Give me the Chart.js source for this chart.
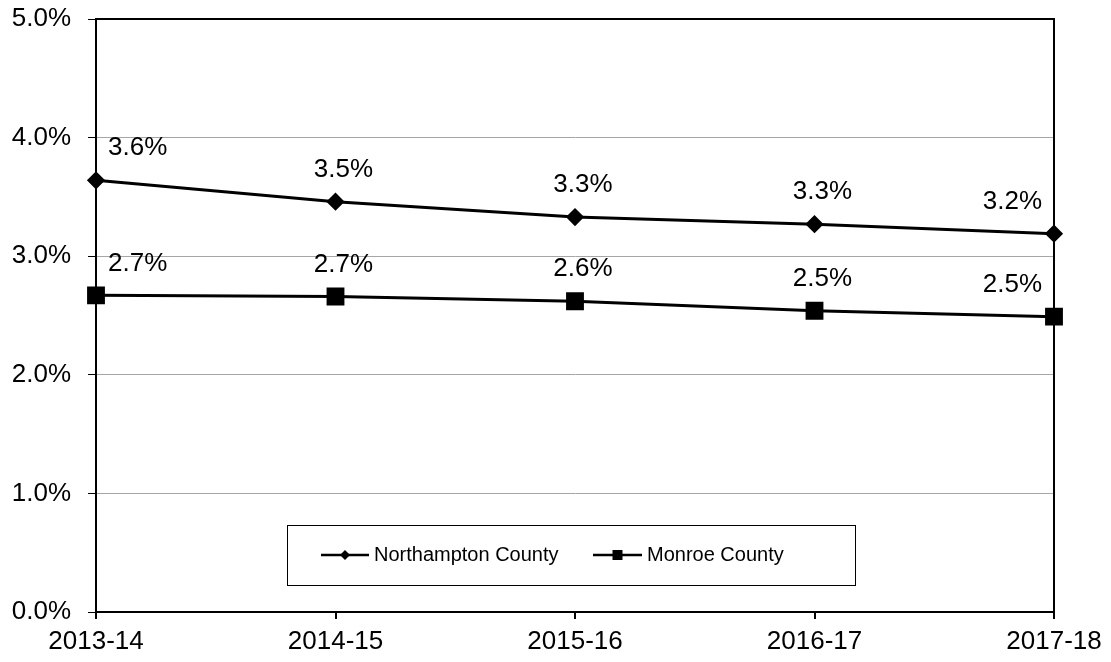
<!DOCTYPE html>
<html>
<head>
<meta charset="utf-8">
<script src="https://cdn.jsdelivr.net/npm/chart.js@4/dist/chart.umd.min.js"></script>
<style>
  html, body { margin: 0; padding: 0; background: #fff; }
  #wrap { width: 1111px; height: 662px; }
</style>
</head>
<body>
<div id="wrap"><canvas id="c" width="1111" height="662"></canvas></div>
<script>
const years = ['2013-14', '2014-15', '2015-16', '2016-17', '2017-18'];
const northampton = [3.64, 3.46, 3.33, 3.27, 3.19];
const monroe = [2.67, 2.66, 2.62, 2.54, 2.49];
const yTicks = [0, 1, 2, 3, 4, 5];

const FONT = 'Liberation Sans, Arial, sans-serif';

// frame round the plot area
const framePlugin = {
    id: 'frame',
    beforeDatasetsDraw(chart) {
        const a = chart.chartArea, ctx = chart.ctx;
        ctx.save();
        ctx.strokeStyle = '#000';
        ctx.lineWidth = 2;
        ctx.strokeRect(a.left, a.top, a.right - a.left, a.bottom - a.top);
        ctx.restore();
    }
};

// value labels above each point, kept inside the plot area
const labelPlugin = {
    id: 'pointLabels',
    afterDatasetsDraw(chart) {
        const a = chart.chartArea, ctx = chart.ctx;
        ctx.save();
        ctx.font = '26px ' + FONT;
        ctx.fillStyle = '#000';
        ctx.textBaseline = 'middle';
        ctx.textAlign = 'center';
        chart.data.datasets.forEach((ds, i) => {
            chart.getDatasetMeta(i).data.forEach((pt, j) => {
                const txt = ds.data[j].toFixed(1) + '%';
                const w = ctx.measureText(txt).width;
                let cx = pt.x + 8;
                if (cx - w / 2 < a.left + 12) cx = a.left + 12 + w / 2;
                if (cx + w / 2 > a.right - 12) cx = a.right - 12 - w / 2;
                ctx.fillText(txt, cx, pt.y - 32);
            });
        });
        ctx.restore();
    }
};

// legend box inside the plot
const legendPlugin = {
    id: 'boxLegend',
    afterDraw(chart) {
        const ctx = chart.ctx;
        ctx.save();
        ctx.fillStyle = '#fff';
        ctx.fillRect(287, 525, 568, 60);
        ctx.strokeStyle = '#000';
        ctx.lineWidth = 1;
        ctx.strokeRect(287.5, 525.5, 568, 60);
        const y = 555;
        const items = [
            { x1: 321, x2: 369, name: 'Northampton County', style: 'diamond' },
            { x1: 593, x2: 642, name: 'Monroe County', style: 'square' }
        ];
        items.forEach(it => {
            ctx.strokeStyle = '#000';
            ctx.lineWidth = 2.5;
            ctx.beginPath();
            ctx.moveTo(it.x1, y);
            ctx.lineTo(it.x2, y);
            ctx.stroke();
            const mx = (it.x1 + it.x2) / 2;
            ctx.fillStyle = '#000';
            ctx.beginPath();
            if (it.style === 'diamond') {
                ctx.moveTo(mx - 5, y); ctx.lineTo(mx, y - 5);
                ctx.lineTo(mx + 5, y); ctx.lineTo(mx, y + 5);
                ctx.closePath();
            } else {
                ctx.rect(mx - 5, y - 5, 10, 10);
            }
            ctx.fill();
            ctx.font = '20px ' + FONT;
            ctx.textBaseline = 'middle';
            ctx.textAlign = 'left';
            ctx.fillText(it.name, it.x2 + 5, y);
        });
        ctx.restore();
    }
};

function noPad(s) {
    s.paddingTop = 0; s.paddingBottom = 0; s.paddingLeft = 0; s.paddingRight = 0;
}

new Chart(document.getElementById('c').getContext('2d'), {
    type: 'line',
    data: {
        labels: years,
        datasets: [{
            label: 'Northampton County',
            data: northampton,
            borderColor: '#000',
            backgroundColor: '#000',
            borderWidth: 3,
            pointStyle: 'rectRot',
            pointRadius: 7,
            pointHoverRadius: 7,
            tension: 0
        }, {
            label: 'Monroe County',
            data: monroe,
            borderColor: '#000',
            backgroundColor: '#000',
            borderWidth: 3,
            pointStyle: 'rect',
            pointRadius: 10.5,
            pointHoverRadius: 10.5,
            tension: 0
        }]
    },
    options: {
        responsive: false,
        animation: false,
        layout: { padding: { left: 0, right: 57, top: 19, bottom: 0 } },
        scales: {
            x: {
                offset: false,
                grid: { display: true, drawOnChartArea: false, drawTicks: true, tickLength: 7, tickColor: '#000', lineWidth: 2 },
                border: { color: '#000', width: 2 },
                ticks: { color: '#000', font: { family: FONT, size: 26 }, padding: 7, maxRotation: 0, autoSkip: false },
                afterFit(s) { s.height = 662 - 612; noPad(s); }
            },
            y: {
                min: 0,
                max: 5,
                afterBuildTicks(s) { s.ticks = yTicks.map(v => ({ value: v })); },
                grid: { color: '#a6a6a6', lineWidth: 1, tickColor: '#000', tickLength: 8, drawTicks: true },
                border: { color: '#000', width: 2 },
                ticks: {
                    color: '#000',
                    font: { family: FONT, size: 26 },
                    padding: 17,
                    callback: v => v.toFixed(1) + '%'
                },
                afterFit(s) { s.width = 96; noPad(s); }
            }
        },
        plugins: {
            legend: { display: false },
            tooltip: { enabled: false }
        }
    },
    plugins: [framePlugin, labelPlugin, legendPlugin]
});
</script>
</body>
</html>
